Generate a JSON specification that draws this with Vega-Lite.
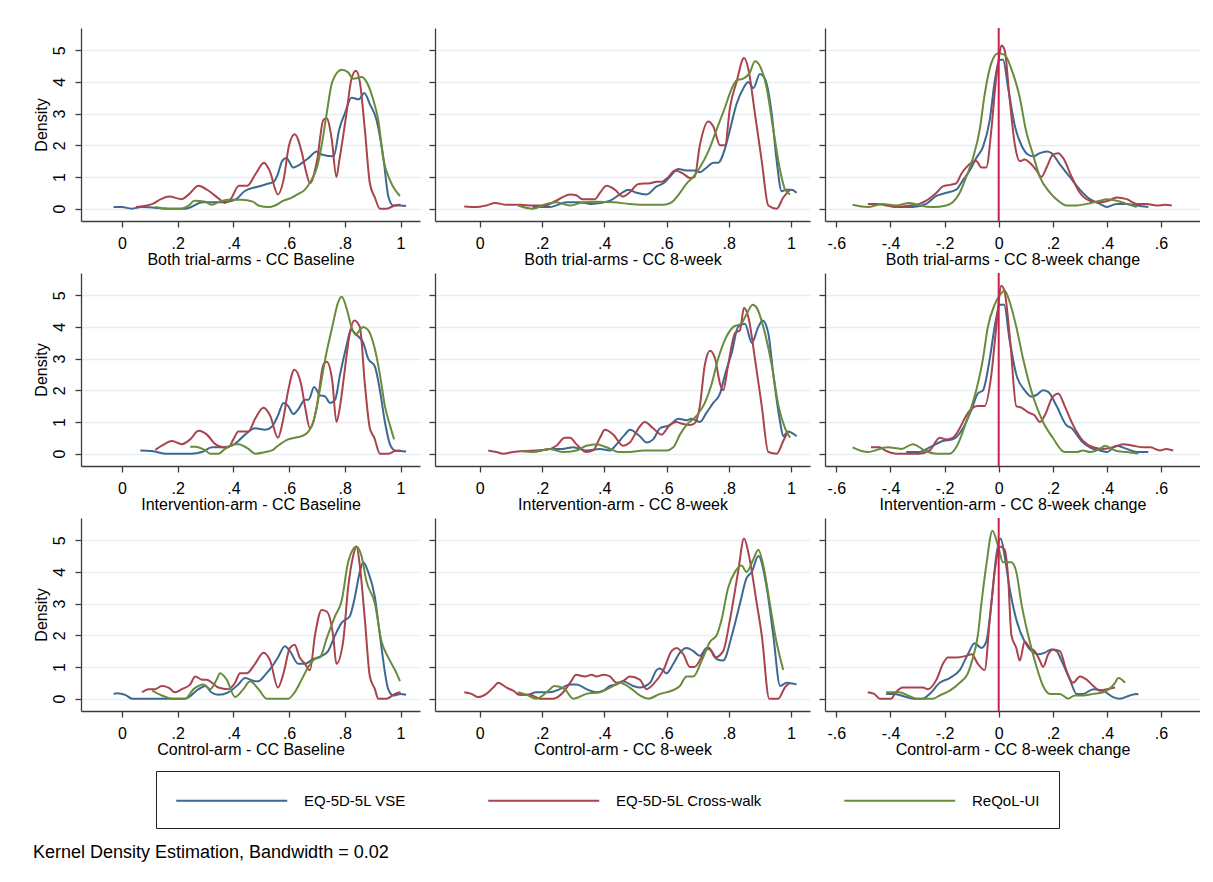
{
"$schema": "https://vega.github.io/schema/vega-lite/v6.json",
"background": "white",
"padding": {"left": 32, "top": 27, "right": 0, "bottom": 0},
"title": {"text": "Kernel Density Estimation, Bandwidth = 0.02", "orient": "bottom", "anchor": "start", "fontSize": 18, "fontWeight": "normal", "font": "Liberation Sans", "color": "#000", "offset": 15},
"config": {
  "font": "Liberation Sans",
  "view": {"stroke": null},
  "line": {"strokeWidth": 2, "interpolate": "monotone"},
  "axis": {"labelFont": "Liberation Sans", "titleFont": "Liberation Sans", "labelFontSize": 16, "titleFontSize": 16, "titleFontWeight": "normal", "labelColor": "#000", "titleColor": "#000", "domainColor": "#3c3c3c", "tickColor": "#3c3c3c", "domainWidth": 1.3, "tickWidth": 1.3, "tickSize": 6, "grid": false},
  "axisX": {"labelPadding": 8, "titlePadding": 0, "labelOverlap": false},
  "axisY": {"grid": true, "gridColor": "#e6eef1", "gridWidth": 1.5, "labelAngle": 270, "labelAlign": "center", "labelBaseline": "bottom", "labelPadding": 8, "titlePadding": 2}
},
"resolve": {"scale": {"x": "independent", "y": "independent", "color": "shared"}},
"spacing": 5,
"datasets": {
"p1": [
{"s":"VSE","x":-0.03,"y":0.05},{"s":"VSE","x":0,"y":0.05},{"s":"VSE","x":0.035,"y":0},{"s":"VSE","x":0.07,"y":0.05},{"s":"VSE","x":0.12,"y":0.03},{"s":"VSE","x":0.15,"y":0},{"s":"VSE","x":0.23,"y":0},{"s":"VSE","x":0.29,"y":0.2},{"s":"VSE","x":0.33,"y":0.2},{"s":"VSE","x":0.38,"y":0.22},{"s":"VSE","x":0.41,"y":0.3},{"s":"VSE","x":0.44,"y":0.55},{"s":"VSE","x":0.49,"y":0.7},{"s":"VSE","x":0.53,"y":0.8},{"s":"VSE","x":0.545,"y":0.85},{"s":"VSE","x":0.56,"y":1.1},{"s":"VSE","x":0.575,"y":1.5},{"s":"VSE","x":0.59,"y":1.6},{"s":"VSE","x":0.615,"y":1.3},{"s":"VSE","x":0.63,"y":1.35},{"s":"VSE","x":0.67,"y":1.6},{"s":"VSE","x":0.70,"y":1.8},{"s":"VSE","x":0.72,"y":1.7},{"s":"VSE","x":0.76,"y":1.65},{"s":"VSE","x":0.78,"y":2.5},{"s":"VSE","x":0.80,"y":3.0},{"s":"VSE","x":0.824,"y":3.5},{"s":"VSE","x":0.85,"y":3.45},{"s":"VSE","x":0.87,"y":3.65},{"s":"VSE","x":0.89,"y":3.3},{"s":"VSE","x":0.914,"y":2.8},{"s":"VSE","x":0.94,"y":1.5},{"s":"VSE","x":0.956,"y":0.4},{"s":"VSE","x":0.974,"y":0.1},{"s":"VSE","x":1.0,"y":0.1},{"s":"VSE","x":1.02,"y":0.08},
{"s":"CW","x":0.05,"y":0.05},{"s":"CW","x":0.11,"y":0.15},{"s":"CW","x":0.14,"y":0.3},{"s":"CW","x":0.17,"y":0.38},{"s":"CW","x":0.215,"y":0.3},{"s":"CW","x":0.24,"y":0.45},{"s":"CW","x":0.275,"y":0.72},{"s":"CW","x":0.305,"y":0.6},{"s":"CW","x":0.35,"y":0.3},{"s":"CW","x":0.37,"y":0.18},{"s":"CW","x":0.39,"y":0.3},{"s":"CW","x":0.42,"y":0.72},{"s":"CW","x":0.45,"y":0.72},{"s":"CW","x":0.48,"y":1.1},{"s":"CW","x":0.51,"y":1.45},{"s":"CW","x":0.53,"y":1.2},{"s":"CW","x":0.56,"y":0.45},{"s":"CW","x":0.58,"y":0.9},{"s":"CW","x":0.60,"y":2.0},{"s":"CW","x":0.62,"y":2.35},{"s":"CW","x":0.645,"y":1.8},{"s":"CW","x":0.66,"y":1.2},{"s":"CW","x":0.675,"y":0.8},{"s":"CW","x":0.70,"y":1.5},{"s":"CW","x":0.723,"y":2.8},{"s":"CW","x":0.735,"y":2.85},{"s":"CW","x":0.753,"y":2.2},{"s":"CW","x":0.77,"y":1.0},{"s":"CW","x":0.78,"y":1.5},{"s":"CW","x":0.806,"y":3.0},{"s":"CW","x":0.824,"y":4.1},{"s":"CW","x":0.84,"y":4.35},{"s":"CW","x":0.854,"y":4.0},{"s":"CW","x":0.872,"y":2.5},{"s":"CW","x":0.89,"y":0.8},{"s":"CW","x":0.908,"y":0.35},{"s":"CW","x":0.926,"y":0},{"s":"CW","x":0.95,"y":0},{"s":"CW","x":0.98,"y":0.1},{"s":"CW","x":1.0,"y":0.12},
{"s":"RQ","x":0.12,"y":0.05},{"s":"RQ","x":0.17,"y":0},{"s":"RQ","x":0.21,"y":0},{"s":"RQ","x":0.24,"y":0.1},{"s":"RQ","x":0.26,"y":0.25},{"s":"RQ","x":0.30,"y":0.22},{"s":"RQ","x":0.32,"y":0.12},{"s":"RQ","x":0.35,"y":0.22},{"s":"RQ","x":0.38,"y":0.28},{"s":"RQ","x":0.43,"y":0.28},{"s":"RQ","x":0.47,"y":0.22},{"s":"RQ","x":0.49,"y":0.1},{"s":"RQ","x":0.526,"y":0.05},{"s":"RQ","x":0.55,"y":0.1},{"s":"RQ","x":0.58,"y":0.25},{"s":"RQ","x":0.61,"y":0.35},{"s":"RQ","x":0.63,"y":0.45},{"s":"RQ","x":0.657,"y":0.6},{"s":"RQ","x":0.68,"y":0.9},{"s":"RQ","x":0.70,"y":1.3},{"s":"RQ","x":0.717,"y":2.0},{"s":"RQ","x":0.735,"y":3.0},{"s":"RQ","x":0.755,"y":4.0},{"s":"RQ","x":0.789,"y":4.38},{"s":"RQ","x":0.812,"y":4.3},{"s":"RQ","x":0.83,"y":4.1},{"s":"RQ","x":0.86,"y":4.15},{"s":"RQ","x":0.878,"y":4.0},{"s":"RQ","x":0.90,"y":3.5},{"s":"RQ","x":0.92,"y":2.8},{"s":"RQ","x":0.94,"y":1.5},{"s":"RQ","x":0.962,"y":0.9},{"s":"RQ","x":0.998,"y":0.4}
],
"p2": [
{"s":"VSE","x":0.17,"y":0.05},{"s":"VSE","x":0.225,"y":0.05},{"s":"VSE","x":0.28,"y":0.2},{"s":"VSE","x":0.32,"y":0.2},{"s":"VSE","x":0.354,"y":0.15},{"s":"VSE","x":0.386,"y":0.18},{"s":"VSE","x":0.418,"y":0.25},{"s":"VSE","x":0.45,"y":0.45},{"s":"VSE","x":0.477,"y":0.6},{"s":"VSE","x":0.504,"y":0.5},{"s":"VSE","x":0.536,"y":0.45},{"s":"VSE","x":0.568,"y":0.7},{"s":"VSE","x":0.59,"y":0.8},{"s":"VSE","x":0.61,"y":1.0},{"s":"VSE","x":0.638,"y":1.25},{"s":"VSE","x":0.664,"y":1.2},{"s":"VSE","x":0.69,"y":1.2},{"s":"VSE","x":0.707,"y":1.15},{"s":"VSE","x":0.729,"y":1.3},{"s":"VSE","x":0.75,"y":1.45},{"s":"VSE","x":0.766,"y":1.45},{"s":"VSE","x":0.788,"y":1.9},{"s":"VSE","x":0.804,"y":2.5},{"s":"VSE","x":0.825,"y":3.3},{"s":"VSE","x":0.847,"y":3.8},{"s":"VSE","x":0.863,"y":4.0},{"s":"VSE","x":0.879,"y":3.8},{"s":"VSE","x":0.90,"y":4.25},{"s":"VSE","x":0.916,"y":4.1},{"s":"VSE","x":0.938,"y":3.0},{"s":"VSE","x":0.954,"y":1.5},{"s":"VSE","x":0.97,"y":0.55},{"s":"VSE","x":0.986,"y":0.6},{"s":"VSE","x":1.002,"y":0.6},{"s":"VSE","x":1.018,"y":0.5},
{"s":"CW","x":-0.05,"y":0.07},{"s":"CW","x":-0.01,"y":0.05},{"s":"CW","x":0.02,"y":0.1},{"s":"CW","x":0.05,"y":0.18},{"s":"CW","x":0.085,"y":0.12},{"s":"CW","x":0.13,"y":0.12},{"s":"CW","x":0.17,"y":0.1},{"s":"CW","x":0.21,"y":0.1},{"s":"CW","x":0.245,"y":0.25},{"s":"CW","x":0.29,"y":0.45},{"s":"CW","x":0.31,"y":0.42},{"s":"CW","x":0.33,"y":0.3},{"s":"CW","x":0.37,"y":0.3},{"s":"CW","x":0.386,"y":0.5},{"s":"CW","x":0.407,"y":0.72},{"s":"CW","x":0.434,"y":0.6},{"s":"CW","x":0.46,"y":0.38},{"s":"CW","x":0.48,"y":0.5},{"s":"CW","x":0.51,"y":0.78},{"s":"CW","x":0.547,"y":0.8},{"s":"CW","x":0.568,"y":0.85},{"s":"CW","x":0.584,"y":0.85},{"s":"CW","x":0.606,"y":1.0},{"s":"CW","x":0.627,"y":1.2},{"s":"CW","x":0.654,"y":1.1},{"s":"CW","x":0.675,"y":0.97},{"s":"CW","x":0.69,"y":1.0},{"s":"CW","x":0.707,"y":2.0},{"s":"CW","x":0.734,"y":2.75},{"s":"CW","x":0.75,"y":2.6},{"s":"CW","x":0.772,"y":2.0},{"s":"CW","x":0.788,"y":2.0},{"s":"CW","x":0.804,"y":3.2},{"s":"CW","x":0.825,"y":4.0},{"s":"CW","x":0.849,"y":4.75},{"s":"CW","x":0.863,"y":4.4},{"s":"CW","x":0.884,"y":3.0},{"s":"CW","x":0.906,"y":1.5},{"s":"CW","x":0.927,"y":0.1},{"s":"CW","x":0.954,"y":0},{"s":"CW","x":0.975,"y":0.35},{"s":"CW","x":0.997,"y":0.6},
{"s":"RQ","x":0.123,"y":0.1},{"s":"RQ","x":0.17,"y":0},{"s":"RQ","x":0.214,"y":0.15},{"s":"RQ","x":0.246,"y":0.2},{"s":"RQ","x":0.29,"y":0.1},{"s":"RQ","x":0.332,"y":0.2},{"s":"RQ","x":0.375,"y":0.22},{"s":"RQ","x":0.43,"y":0.2},{"s":"RQ","x":0.482,"y":0.15},{"s":"RQ","x":0.547,"y":0.12},{"s":"RQ","x":0.59,"y":0.12},{"s":"RQ","x":0.616,"y":0.2},{"s":"RQ","x":0.643,"y":0.5},{"s":"RQ","x":0.665,"y":0.8},{"s":"RQ","x":0.686,"y":1.0},{"s":"RQ","x":0.707,"y":1.3},{"s":"RQ","x":0.734,"y":1.8},{"s":"RQ","x":0.761,"y":2.5},{"s":"RQ","x":0.788,"y":3.2},{"s":"RQ","x":0.81,"y":3.8},{"s":"RQ","x":0.825,"y":4.05},{"s":"RQ","x":0.847,"y":4.1},{"s":"RQ","x":0.868,"y":4.3},{"s":"RQ","x":0.884,"y":4.65},{"s":"RQ","x":0.90,"y":4.5},{"s":"RQ","x":0.922,"y":3.8},{"s":"RQ","x":0.943,"y":2.5},{"s":"RQ","x":0.965,"y":1.2},{"s":"RQ","x":0.981,"y":0.6},{"s":"RQ","x":0.997,"y":0.45}
],
"p3": [
{"s":"VSE","x":-0.39,"y":0.05},{"s":"VSE","x":-0.317,"y":0.05},{"s":"VSE","x":-0.268,"y":0.15},{"s":"VSE","x":-0.23,"y":0.4},{"s":"VSE","x":-0.194,"y":0.5},{"s":"VSE","x":-0.157,"y":0.6},{"s":"VSE","x":-0.132,"y":0.9},{"s":"VSE","x":-0.107,"y":1.2},{"s":"VSE","x":-0.083,"y":1.6},{"s":"VSE","x":-0.058,"y":1.95},{"s":"VSE","x":-0.033,"y":2.8},{"s":"VSE","x":-0.015,"y":4.0},{"s":"VSE","x":0.004,"y":4.7},{"s":"VSE","x":0.016,"y":4.7},{"s":"VSE","x":0.035,"y":3.8},{"s":"VSE","x":0.06,"y":2.6},{"s":"VSE","x":0.084,"y":2.0},{"s":"VSE","x":0.109,"y":1.7},{"s":"VSE","x":0.127,"y":1.65},{"s":"VSE","x":0.152,"y":1.75},{"s":"VSE","x":0.177,"y":1.8},{"s":"VSE","x":0.195,"y":1.75},{"s":"VSE","x":0.226,"y":1.4},{"s":"VSE","x":0.263,"y":1.0},{"s":"VSE","x":0.30,"y":0.6},{"s":"VSE","x":0.337,"y":0.3},{"s":"VSE","x":0.374,"y":0.15},{"s":"VSE","x":0.40,"y":0.05},{"s":"VSE","x":0.436,"y":0.15},{"s":"VSE","x":0.473,"y":0.15},{"s":"VSE","x":0.51,"y":0.1},{"s":"VSE","x":0.553,"y":0.05},
{"s":"CW","x":-0.484,"y":0.15},{"s":"CW","x":-0.447,"y":0.15},{"s":"CW","x":-0.416,"y":0.1},{"s":"CW","x":-0.38,"y":0.05},{"s":"CW","x":-0.33,"y":0.1},{"s":"CW","x":-0.293,"y":0.15},{"s":"CW","x":-0.268,"y":0.25},{"s":"CW","x":-0.23,"y":0.5},{"s":"CW","x":-0.206,"y":0.7},{"s":"CW","x":-0.18,"y":0.75},{"s":"CW","x":-0.157,"y":0.8},{"s":"CW","x":-0.138,"y":1.1},{"s":"CW","x":-0.12,"y":1.3},{"s":"CW","x":-0.10,"y":1.45},{"s":"CW","x":-0.083,"y":1.5},{"s":"CW","x":-0.064,"y":1.3},{"s":"CW","x":-0.046,"y":1.3},{"s":"CW","x":-0.027,"y":2.5},{"s":"CW","x":-0.011,"y":4.0},{"s":"CW","x":0,"y":4.7},{"s":"CW","x":0.01,"y":5.15},{"s":"CW","x":0.022,"y":5.0},{"s":"CW","x":0.04,"y":3.5},{"s":"CW","x":0.06,"y":2.0},{"s":"CW","x":0.078,"y":1.5},{"s":"CW","x":0.096,"y":1.55},{"s":"CW","x":0.115,"y":1.45},{"s":"CW","x":0.14,"y":1.2},{"s":"CW","x":0.158,"y":1.0},{"s":"CW","x":0.177,"y":1.3},{"s":"CW","x":0.20,"y":1.7},{"s":"CW","x":0.22,"y":1.75},{"s":"CW","x":0.238,"y":1.6},{"s":"CW","x":0.27,"y":1.0},{"s":"CW","x":0.30,"y":0.5},{"s":"CW","x":0.337,"y":0.25},{"s":"CW","x":0.374,"y":0.2},{"s":"CW","x":0.405,"y":0.25},{"s":"CW","x":0.436,"y":0.35},{"s":"CW","x":0.473,"y":0.3},{"s":"CW","x":0.51,"y":0.15},{"s":"CW","x":0.547,"y":0.15},{"s":"CW","x":0.584,"y":0.1},{"s":"CW","x":0.615,"y":0.12},{"s":"CW","x":0.64,"y":0.1},
{"s":"RQ","x":-0.54,"y":0.12},{"s":"RQ","x":-0.484,"y":0.05},{"s":"RQ","x":-0.43,"y":0.15},{"s":"RQ","x":-0.38,"y":0.1},{"s":"RQ","x":-0.33,"y":0.18},{"s":"RQ","x":-0.293,"y":0.1},{"s":"RQ","x":-0.243,"y":0.05},{"s":"RQ","x":-0.194,"y":0.1},{"s":"RQ","x":-0.17,"y":0.2},{"s":"RQ","x":-0.144,"y":0.5},{"s":"RQ","x":-0.12,"y":1.0},{"s":"RQ","x":-0.095,"y":1.6},{"s":"RQ","x":-0.07,"y":2.5},{"s":"RQ","x":-0.052,"y":3.6},{"s":"RQ","x":-0.027,"y":4.6},{"s":"RQ","x":-0.002,"y":4.9},{"s":"RQ","x":0.022,"y":4.85},{"s":"RQ","x":0.047,"y":4.4},{"s":"RQ","x":0.078,"y":3.5},{"s":"RQ","x":0.10,"y":2.5},{"s":"RQ","x":0.127,"y":1.7},{"s":"RQ","x":0.152,"y":1.0},{"s":"RQ","x":0.19,"y":0.5},{"s":"RQ","x":0.22,"y":0.25},{"s":"RQ","x":0.25,"y":0.1},{"s":"RQ","x":0.288,"y":0.1},{"s":"RQ","x":0.325,"y":0.15},{"s":"RQ","x":0.374,"y":0.25},{"s":"RQ","x":0.40,"y":0.3},{"s":"RQ","x":0.436,"y":0.25},{"s":"RQ","x":0.473,"y":0.15},{"s":"RQ","x":0.51,"y":0.05}
],
"p4": [
{"s":"VSE","x":0.066,"y":0.1},{"s":"VSE","x":0.108,"y":0.08},{"s":"VSE","x":0.155,"y":0},{"s":"VSE","x":0.25,"y":0},{"s":"VSE","x":0.287,"y":0.05},{"s":"VSE","x":0.323,"y":0.2},{"s":"VSE","x":0.358,"y":0.2},{"s":"VSE","x":0.394,"y":0.25},{"s":"VSE","x":0.418,"y":0.4},{"s":"VSE","x":0.442,"y":0.6},{"s":"VSE","x":0.478,"y":0.8},{"s":"VSE","x":0.514,"y":0.75},{"s":"VSE","x":0.538,"y":0.85},{"s":"VSE","x":0.56,"y":1.2},{"s":"VSE","x":0.58,"y":1.6},{"s":"VSE","x":0.597,"y":1.5},{"s":"VSE","x":0.615,"y":1.25},{"s":"VSE","x":0.633,"y":1.4},{"s":"VSE","x":0.657,"y":1.7},{"s":"VSE","x":0.67,"y":1.7},{"s":"VSE","x":0.69,"y":2.1},{"s":"VSE","x":0.71,"y":1.85},{"s":"VSE","x":0.73,"y":1.8},{"s":"VSE","x":0.747,"y":1.6},{"s":"VSE","x":0.765,"y":1.7},{"s":"VSE","x":0.783,"y":2.5},{"s":"VSE","x":0.806,"y":3.4},{"s":"VSE","x":0.822,"y":3.9},{"s":"VSE","x":0.842,"y":3.75},{"s":"VSE","x":0.866,"y":3.5},{"s":"VSE","x":0.884,"y":3.0},{"s":"VSE","x":0.908,"y":2.75},{"s":"VSE","x":0.926,"y":2.0},{"s":"VSE","x":0.944,"y":1.0},{"s":"VSE","x":0.962,"y":0.3},{"s":"VSE","x":0.98,"y":0.1},{"s":"VSE","x":1.0,"y":0.08},{"s":"VSE","x":1.02,"y":0.07},
{"s":"CW","x":0.12,"y":0.12},{"s":"CW","x":0.143,"y":0.25},{"s":"CW","x":0.18,"y":0.4},{"s":"CW","x":0.215,"y":0.3},{"s":"CW","x":0.245,"y":0.45},{"s":"CW","x":0.275,"y":0.72},{"s":"CW","x":0.305,"y":0.6},{"s":"CW","x":0.335,"y":0.3},{"s":"CW","x":0.364,"y":0.2},{"s":"CW","x":0.382,"y":0.2},{"s":"CW","x":0.40,"y":0.45},{"s":"CW","x":0.418,"y":0.7},{"s":"CW","x":0.454,"y":0.7},{"s":"CW","x":0.478,"y":1.1},{"s":"CW","x":0.508,"y":1.45},{"s":"CW","x":0.532,"y":1.2},{"s":"CW","x":0.56,"y":0.5},{"s":"CW","x":0.577,"y":1.0},{"s":"CW","x":0.597,"y":2.0},{"s":"CW","x":0.619,"y":2.65},{"s":"CW","x":0.643,"y":2.2},{"s":"CW","x":0.657,"y":1.5},{"s":"CW","x":0.675,"y":0.8},{"s":"CW","x":0.70,"y":1.5},{"s":"CW","x":0.723,"y":2.8},{"s":"CW","x":0.735,"y":2.9},{"s":"CW","x":0.755,"y":2.3},{"s":"CW","x":0.77,"y":1.0},{"s":"CW","x":0.783,"y":1.5},{"s":"CW","x":0.798,"y":2.5},{"s":"CW","x":0.818,"y":3.8},{"s":"CW","x":0.834,"y":4.2},{"s":"CW","x":0.854,"y":4.0},{"s":"CW","x":0.872,"y":2.2},{"s":"CW","x":0.89,"y":0.8},{"s":"CW","x":0.906,"y":0.5},{"s":"CW","x":0.926,"y":0},{"s":"CW","x":0.956,"y":0},{"s":"CW","x":0.98,"y":0.08},{"s":"CW","x":1.0,"y":0.1},
{"s":"RQ","x":0.245,"y":0.22},{"s":"RQ","x":0.263,"y":0.22},{"s":"RQ","x":0.30,"y":0.1},{"s":"RQ","x":0.317,"y":0},{"s":"RQ","x":0.347,"y":0},{"s":"RQ","x":0.37,"y":0.15},{"s":"RQ","x":0.406,"y":0.3},{"s":"RQ","x":0.418,"y":0.3},{"s":"RQ","x":0.454,"y":0.15},{"s":"RQ","x":0.478,"y":0},{"s":"RQ","x":0.514,"y":0.05},{"s":"RQ","x":0.538,"y":0.1},{"s":"RQ","x":0.56,"y":0.25},{"s":"RQ","x":0.597,"y":0.45},{"s":"RQ","x":0.62,"y":0.5},{"s":"RQ","x":0.645,"y":0.55},{"s":"RQ","x":0.67,"y":0.7},{"s":"RQ","x":0.693,"y":1.2},{"s":"RQ","x":0.71,"y":2.0},{"s":"RQ","x":0.73,"y":3.0},{"s":"RQ","x":0.755,"y":4.0},{"s":"RQ","x":0.777,"y":4.8},{"s":"RQ","x":0.789,"y":4.95},{"s":"RQ","x":0.806,"y":4.6},{"s":"RQ","x":0.824,"y":4.0},{"s":"RQ","x":0.839,"y":3.75},{"s":"RQ","x":0.854,"y":3.9},{"s":"RQ","x":0.866,"y":4.0},{"s":"RQ","x":0.884,"y":3.9},{"s":"RQ","x":0.908,"y":3.3},{"s":"RQ","x":0.926,"y":2.5},{"s":"RQ","x":0.944,"y":1.5},{"s":"RQ","x":0.962,"y":0.9},{"s":"RQ","x":0.977,"y":0.45}
],
"p5": [
{"s":"VSE","x":0.145,"y":0.08},{"s":"VSE","x":0.182,"y":0.08},{"s":"VSE","x":0.225,"y":0.15},{"s":"VSE","x":0.268,"y":0.15},{"s":"VSE","x":0.30,"y":0.2},{"s":"VSE","x":0.343,"y":0.1},{"s":"VSE","x":0.386,"y":0.15},{"s":"VSE","x":0.418,"y":0.1},{"s":"VSE","x":0.44,"y":0.3},{"s":"VSE","x":0.466,"y":0.6},{"s":"VSE","x":0.482,"y":0.75},{"s":"VSE","x":0.514,"y":0.55},{"s":"VSE","x":0.536,"y":0.35},{"s":"VSE","x":0.557,"y":0.45},{"s":"VSE","x":0.579,"y":0.8},{"s":"VSE","x":0.61,"y":0.9},{"s":"VSE","x":0.638,"y":1.1},{"s":"VSE","x":0.664,"y":1.05},{"s":"VSE","x":0.68,"y":1.1},{"s":"VSE","x":0.707,"y":1.0},{"s":"VSE","x":0.729,"y":1.3},{"s":"VSE","x":0.75,"y":1.6},{"s":"VSE","x":0.772,"y":1.9},{"s":"VSE","x":0.788,"y":2.5},{"s":"VSE","x":0.81,"y":3.2},{"s":"VSE","x":0.83,"y":4.0},{"s":"VSE","x":0.852,"y":4.1},{"s":"VSE","x":0.874,"y":3.5},{"s":"VSE","x":0.895,"y":4.0},{"s":"VSE","x":0.909,"y":4.2},{"s":"VSE","x":0.927,"y":3.8},{"s":"VSE","x":0.943,"y":2.5},{"s":"VSE","x":0.965,"y":1.0},{"s":"VSE","x":0.975,"y":0.55},{"s":"VSE","x":0.99,"y":0.7},{"s":"VSE","x":1.018,"y":0.55},
{"s":"CW","x":0.027,"y":0.1},{"s":"CW","x":0.054,"y":0.05},{"s":"CW","x":0.075,"y":0},{"s":"CW","x":0.107,"y":0.05},{"s":"CW","x":0.14,"y":0.08},{"s":"CW","x":0.182,"y":0.1},{"s":"CW","x":0.214,"y":0.12},{"s":"CW","x":0.246,"y":0.25},{"s":"CW","x":0.273,"y":0.5},{"s":"CW","x":0.29,"y":0.5},{"s":"CW","x":0.31,"y":0.3},{"s":"CW","x":0.343,"y":0.05},{"s":"CW","x":0.364,"y":0.1},{"s":"CW","x":0.386,"y":0.5},{"s":"CW","x":0.402,"y":0.75},{"s":"CW","x":0.429,"y":0.6},{"s":"CW","x":0.46,"y":0.25},{"s":"CW","x":0.482,"y":0.35},{"s":"CW","x":0.51,"y":0.8},{"s":"CW","x":0.53,"y":1.0},{"s":"CW","x":0.557,"y":0.8},{"s":"CW","x":0.584,"y":0.6},{"s":"CW","x":0.61,"y":0.9},{"s":"CW","x":0.632,"y":1.0},{"s":"CW","x":0.648,"y":0.95},{"s":"CW","x":0.675,"y":0.9},{"s":"CW","x":0.69,"y":0.95},{"s":"CW","x":0.707,"y":1.5},{"s":"CW","x":0.723,"y":2.8},{"s":"CW","x":0.74,"y":3.25},{"s":"CW","x":0.756,"y":3.0},{"s":"CW","x":0.772,"y":2.2},{"s":"CW","x":0.782,"y":2.0},{"s":"CW","x":0.798,"y":2.8},{"s":"CW","x":0.82,"y":3.8},{"s":"CW","x":0.836,"y":3.9},{"s":"CW","x":0.849,"y":4.6},{"s":"CW","x":0.863,"y":4.3},{"s":"CW","x":0.884,"y":3.0},{"s":"CW","x":0.906,"y":1.5},{"s":"CW","x":0.927,"y":0.05},{"s":"CW","x":0.954,"y":0},{"s":"CW","x":0.975,"y":0.4},{"s":"CW","x":0.99,"y":0.7},
{"s":"RQ","x":0.129,"y":0.08},{"s":"RQ","x":0.171,"y":0.05},{"s":"RQ","x":0.225,"y":0.15},{"s":"RQ","x":0.268,"y":0.05},{"s":"RQ","x":0.31,"y":0.1},{"s":"RQ","x":0.343,"y":0.25},{"s":"RQ","x":0.375,"y":0.3},{"s":"RQ","x":0.407,"y":0.2},{"s":"RQ","x":0.45,"y":0.05},{"s":"RQ","x":0.482,"y":0.05},{"s":"RQ","x":0.525,"y":0.1},{"s":"RQ","x":0.568,"y":0.1},{"s":"RQ","x":0.60,"y":0.1},{"s":"RQ","x":0.622,"y":0.2},{"s":"RQ","x":0.643,"y":0.6},{"s":"RQ","x":0.664,"y":0.9},{"s":"RQ","x":0.697,"y":1.2},{"s":"RQ","x":0.723,"y":1.6},{"s":"RQ","x":0.745,"y":2.2},{"s":"RQ","x":0.766,"y":3.0},{"s":"RQ","x":0.788,"y":3.6},{"s":"RQ","x":0.815,"y":4.0},{"s":"RQ","x":0.84,"y":4.1},{"s":"RQ","x":0.857,"y":4.4},{"s":"RQ","x":0.877,"y":4.7},{"s":"RQ","x":0.89,"y":4.6},{"s":"RQ","x":0.911,"y":4.0},{"s":"RQ","x":0.938,"y":2.8},{"s":"RQ","x":0.96,"y":1.5},{"s":"RQ","x":0.981,"y":0.8},{"s":"RQ","x":0.997,"y":0.5}
],
"p6": [
{"s":"VSE","x":-0.342,"y":0.05},{"s":"VSE","x":-0.293,"y":0.05},{"s":"VSE","x":-0.255,"y":0.2},{"s":"VSE","x":-0.206,"y":0.4},{"s":"VSE","x":-0.17,"y":0.45},{"s":"VSE","x":-0.132,"y":0.8},{"s":"VSE","x":-0.10,"y":1.4},{"s":"VSE","x":-0.077,"y":1.9},{"s":"VSE","x":-0.058,"y":2.0},{"s":"VSE","x":-0.033,"y":3.0},{"s":"VSE","x":-0.015,"y":4.0},{"s":"VSE","x":0.004,"y":4.7},{"s":"VSE","x":0.02,"y":4.7},{"s":"VSE","x":0.04,"y":3.6},{"s":"VSE","x":0.065,"y":2.5},{"s":"VSE","x":0.096,"y":2.0},{"s":"VSE","x":0.12,"y":1.8},{"s":"VSE","x":0.14,"y":1.85},{"s":"VSE","x":0.164,"y":2.0},{"s":"VSE","x":0.183,"y":1.95},{"s":"VSE","x":0.214,"y":1.5},{"s":"VSE","x":0.25,"y":0.9},{"s":"VSE","x":0.27,"y":0.8},{"s":"VSE","x":0.306,"y":0.4},{"s":"VSE","x":0.337,"y":0.2},{"s":"VSE","x":0.374,"y":0.1},{"s":"VSE","x":0.40,"y":0.05},{"s":"VSE","x":0.436,"y":0.25},{"s":"VSE","x":0.473,"y":0.15},{"s":"VSE","x":0.51,"y":0.05},{"s":"VSE","x":0.553,"y":0.05},
{"s":"CW","x":-0.472,"y":0.2},{"s":"CW","x":-0.44,"y":0.2},{"s":"CW","x":-0.42,"y":0.1},{"s":"CW","x":-0.38,"y":0},{"s":"CW","x":-0.293,"y":0},{"s":"CW","x":-0.255,"y":0.1},{"s":"CW","x":-0.218,"y":0.5},{"s":"CW","x":-0.194,"y":0.45},{"s":"CW","x":-0.17,"y":0.5},{"s":"CW","x":-0.144,"y":0.8},{"s":"CW","x":-0.12,"y":1.2},{"s":"CW","x":-0.095,"y":1.45},{"s":"CW","x":-0.077,"y":1.5},{"s":"CW","x":-0.052,"y":1.5},{"s":"CW","x":-0.027,"y":2.5},{"s":"CW","x":-0.009,"y":4.0},{"s":"CW","x":0.01,"y":5.3},{"s":"CW","x":0.022,"y":5.1},{"s":"CW","x":0.043,"y":3.5},{"s":"CW","x":0.065,"y":1.5},{"s":"CW","x":0.084,"y":1.45},{"s":"CW","x":0.109,"y":1.3},{"s":"CW","x":0.133,"y":1.2},{"s":"CW","x":0.152,"y":1.0},{"s":"CW","x":0.17,"y":1.2},{"s":"CW","x":0.20,"y":1.8},{"s":"CW","x":0.22,"y":1.9},{"s":"CW","x":0.244,"y":1.5},{"s":"CW","x":0.275,"y":0.9},{"s":"CW","x":0.312,"y":0.4},{"s":"CW","x":0.35,"y":0.2},{"s":"CW","x":0.386,"y":0.15},{"s":"CW","x":0.423,"y":0.2},{"s":"CW","x":0.46,"y":0.3},{"s":"CW","x":0.497,"y":0.25},{"s":"CW","x":0.535,"y":0.2},{"s":"CW","x":0.56,"y":0.2},{"s":"CW","x":0.596,"y":0.1},{"s":"CW","x":0.62,"y":0.15},{"s":"CW","x":0.645,"y":0.1},
{"s":"RQ","x":-0.54,"y":0.2},{"s":"RQ","x":-0.484,"y":0.05},{"s":"RQ","x":-0.41,"y":0.2},{"s":"RQ","x":-0.36,"y":0.15},{"s":"RQ","x":-0.317,"y":0.3},{"s":"RQ","x":-0.274,"y":0.1},{"s":"RQ","x":-0.23,"y":0},{"s":"RQ","x":-0.181,"y":0},{"s":"RQ","x":-0.157,"y":0.2},{"s":"RQ","x":-0.12,"y":1.0},{"s":"RQ","x":-0.083,"y":2.0},{"s":"RQ","x":-0.058,"y":3.0},{"s":"RQ","x":-0.04,"y":4.0},{"s":"RQ","x":-0.015,"y":4.7},{"s":"RQ","x":0.004,"y":5.0},{"s":"RQ","x":0.022,"y":5.15},{"s":"RQ","x":0.04,"y":4.8},{"s":"RQ","x":0.065,"y":4.0},{"s":"RQ","x":0.09,"y":3.0},{"s":"RQ","x":0.12,"y":2.0},{"s":"RQ","x":0.164,"y":1.0},{"s":"RQ","x":0.20,"y":0.5},{"s":"RQ","x":0.244,"y":0.05},{"s":"RQ","x":0.288,"y":0.05},{"s":"RQ","x":0.312,"y":0.1},{"s":"RQ","x":0.337,"y":0.05},{"s":"RQ","x":0.374,"y":0.15},{"s":"RQ","x":0.393,"y":0.25},{"s":"RQ","x":0.43,"y":0.1},{"s":"RQ","x":0.473,"y":0.05},{"s":"RQ","x":0.516,"y":0}
],
"p7": [
{"s":"VSE","x":-0.03,"y":0.15},{"s":"VSE","x":-0.018,"y":0.17},{"s":"VSE","x":0.012,"y":0.12},{"s":"VSE","x":0.036,"y":0},{"s":"VSE","x":0.143,"y":0},{"s":"VSE","x":0.227,"y":0},{"s":"VSE","x":0.275,"y":0.3},{"s":"VSE","x":0.30,"y":0.4},{"s":"VSE","x":0.32,"y":0.2},{"s":"VSE","x":0.346,"y":0.12},{"s":"VSE","x":0.382,"y":0.2},{"s":"VSE","x":0.418,"y":0.45},{"s":"VSE","x":0.442,"y":0.65},{"s":"VSE","x":0.478,"y":0.55},{"s":"VSE","x":0.49,"y":0.55},{"s":"VSE","x":0.514,"y":0.75},{"s":"VSE","x":0.538,"y":1.0},{"s":"VSE","x":0.56,"y":1.3},{"s":"VSE","x":0.585,"y":1.65},{"s":"VSE","x":0.603,"y":1.5},{"s":"VSE","x":0.633,"y":1.1},{"s":"VSE","x":0.657,"y":1.1},{"s":"VSE","x":0.687,"y":1.25},{"s":"VSE","x":0.717,"y":1.35},{"s":"VSE","x":0.74,"y":1.5},{"s":"VSE","x":0.765,"y":2.0},{"s":"VSE","x":0.789,"y":2.4},{"s":"VSE","x":0.818,"y":2.6},{"s":"VSE","x":0.836,"y":3.2},{"s":"VSE","x":0.854,"y":4.0},{"s":"VSE","x":0.866,"y":4.3},{"s":"VSE","x":0.884,"y":4.0},{"s":"VSE","x":0.908,"y":3.2},{"s":"VSE","x":0.926,"y":2.0},{"s":"VSE","x":0.956,"y":0.3},{"s":"VSE","x":0.974,"y":0.1},{"s":"VSE","x":1.0,"y":0.15},{"s":"VSE","x":1.02,"y":0.12},
{"s":"CW","x":0.072,"y":0.2},{"s":"CW","x":0.096,"y":0.3},{"s":"CW","x":0.12,"y":0.3},{"s":"CW","x":0.143,"y":0.4},{"s":"CW","x":0.167,"y":0.35},{"s":"CW","x":0.19,"y":0.2},{"s":"CW","x":0.215,"y":0.3},{"s":"CW","x":0.245,"y":0.45},{"s":"CW","x":0.263,"y":0.7},{"s":"CW","x":0.287,"y":0.6},{"s":"CW","x":0.305,"y":0.6},{"s":"CW","x":0.323,"y":0.5},{"s":"CW","x":0.346,"y":0.35},{"s":"CW","x":0.382,"y":0.3},{"s":"CW","x":0.406,"y":0.5},{"s":"CW","x":0.424,"y":0.8},{"s":"CW","x":0.448,"y":0.8},{"s":"CW","x":0.478,"y":1.1},{"s":"CW","x":0.508,"y":1.45},{"s":"CW","x":0.532,"y":1.2},{"s":"CW","x":0.56,"y":0.35},{"s":"CW","x":0.58,"y":0.8},{"s":"CW","x":0.603,"y":1.6},{"s":"CW","x":0.62,"y":1.7},{"s":"CW","x":0.638,"y":1.3},{"s":"CW","x":0.657,"y":1.1},{"s":"CW","x":0.675,"y":0.9},{"s":"CW","x":0.693,"y":2.0},{"s":"CW","x":0.717,"y":2.8},{"s":"CW","x":0.735,"y":2.75},{"s":"CW","x":0.758,"y":2.0},{"s":"CW","x":0.77,"y":1.1},{"s":"CW","x":0.794,"y":1.8},{"s":"CW","x":0.812,"y":3.5},{"s":"CW","x":0.83,"y":4.5},{"s":"CW","x":0.842,"y":4.8},{"s":"CW","x":0.854,"y":4.2},{"s":"CW","x":0.872,"y":2.5},{"s":"CW","x":0.89,"y":0.7},{"s":"CW","x":0.908,"y":0.3},{"s":"CW","x":0.92,"y":0},{"s":"CW","x":0.95,"y":0},{"s":"CW","x":0.98,"y":0.15},{"s":"CW","x":1.0,"y":0.2},
{"s":"RQ","x":0.108,"y":0.25},{"s":"RQ","x":0.143,"y":0.1},{"s":"RQ","x":0.18,"y":0},{"s":"RQ","x":0.227,"y":0},{"s":"RQ","x":0.257,"y":0.3},{"s":"RQ","x":0.293,"y":0.45},{"s":"RQ","x":0.317,"y":0.3},{"s":"RQ","x":0.34,"y":0.6},{"s":"RQ","x":0.352,"y":0.8},{"s":"RQ","x":0.376,"y":0.6},{"s":"RQ","x":0.406,"y":0.05},{"s":"RQ","x":0.436,"y":0.3},{"s":"RQ","x":0.46,"y":0.55},{"s":"RQ","x":0.49,"y":0.3},{"s":"RQ","x":0.52,"y":0},{"s":"RQ","x":0.597,"y":0},{"s":"RQ","x":0.62,"y":0.2},{"s":"RQ","x":0.645,"y":0.6},{"s":"RQ","x":0.669,"y":1.0},{"s":"RQ","x":0.693,"y":1.25},{"s":"RQ","x":0.711,"y":1.3},{"s":"RQ","x":0.735,"y":1.9},{"s":"RQ","x":0.765,"y":2.6},{"s":"RQ","x":0.789,"y":3.1},{"s":"RQ","x":0.812,"y":4.3},{"s":"RQ","x":0.842,"y":4.8},{"s":"RQ","x":0.86,"y":4.5},{"s":"RQ","x":0.878,"y":3.7},{"s":"RQ","x":0.908,"y":3.0},{"s":"RQ","x":0.932,"y":1.8},{"s":"RQ","x":0.956,"y":1.3},{"s":"RQ","x":0.986,"y":0.8},{"s":"RQ","x":0.998,"y":0.55}
],
"p8": [
{"s":"VSE","x":0.118,"y":0.15},{"s":"VSE","x":0.15,"y":0.12},{"s":"VSE","x":0.182,"y":0.2},{"s":"VSE","x":0.225,"y":0.2},{"s":"VSE","x":0.257,"y":0.3},{"s":"VSE","x":0.29,"y":0.45},{"s":"VSE","x":0.31,"y":0.45},{"s":"VSE","x":0.343,"y":0.3},{"s":"VSE","x":0.375,"y":0.2},{"s":"VSE","x":0.397,"y":0.25},{"s":"VSE","x":0.418,"y":0.4},{"s":"VSE","x":0.44,"y":0.45},{"s":"VSE","x":0.46,"y":0.55},{"s":"VSE","x":0.493,"y":0.4},{"s":"VSE","x":0.514,"y":0.35},{"s":"VSE","x":0.547,"y":0.5},{"s":"VSE","x":0.568,"y":0.9},{"s":"VSE","x":0.579,"y":0.95},{"s":"VSE","x":0.60,"y":0.8},{"s":"VSE","x":0.622,"y":1.1},{"s":"VSE","x":0.643,"y":1.45},{"s":"VSE","x":0.664,"y":1.6},{"s":"VSE","x":0.686,"y":1.5},{"s":"VSE","x":0.707,"y":1.35},{"s":"VSE","x":0.729,"y":1.6},{"s":"VSE","x":0.745,"y":1.5},{"s":"VSE","x":0.761,"y":1.25},{"s":"VSE","x":0.782,"y":1.2},{"s":"VSE","x":0.81,"y":2.0},{"s":"VSE","x":0.836,"y":3.0},{"s":"VSE","x":0.857,"y":3.8},{"s":"VSE","x":0.874,"y":4.0},{"s":"VSE","x":0.895,"y":4.5},{"s":"VSE","x":0.922,"y":3.5},{"s":"VSE","x":0.943,"y":2.0},{"s":"VSE","x":0.965,"y":0.4},{"s":"VSE","x":0.986,"y":0.5},{"s":"VSE","x":1.018,"y":0.45},
{"s":"CW","x":-0.05,"y":0.2},{"s":"CW","x":-0.027,"y":0.15},{"s":"CW","x":-0.005,"y":0.05},{"s":"CW","x":0.021,"y":0.15},{"s":"CW","x":0.048,"y":0.4},{"s":"CW","x":0.059,"y":0.5},{"s":"CW","x":0.086,"y":0.35},{"s":"CW","x":0.107,"y":0.25},{"s":"CW","x":0.129,"y":0.12},{"s":"CW","x":0.161,"y":0.12},{"s":"CW","x":0.193,"y":0},{"s":"CW","x":0.236,"y":0},{"s":"CW","x":0.268,"y":0.2},{"s":"CW","x":0.29,"y":0.5},{"s":"CW","x":0.31,"y":0.75},{"s":"CW","x":0.338,"y":0.7},{"s":"CW","x":0.359,"y":0.75},{"s":"CW","x":0.375,"y":0.7},{"s":"CW","x":0.397,"y":0.75},{"s":"CW","x":0.418,"y":0.7},{"s":"CW","x":0.44,"y":0.5},{"s":"CW","x":0.46,"y":0.55},{"s":"CW","x":0.482,"y":0.7},{"s":"CW","x":0.514,"y":0.6},{"s":"CW","x":0.536,"y":0.3},{"s":"CW","x":0.557,"y":0.45},{"s":"CW","x":0.59,"y":0.9},{"s":"CW","x":0.616,"y":1.5},{"s":"CW","x":0.632,"y":1.6},{"s":"CW","x":0.654,"y":1.4},{"s":"CW","x":0.675,"y":1.0},{"s":"CW","x":0.69,"y":1.0},{"s":"CW","x":0.718,"y":1.4},{"s":"CW","x":0.737,"y":1.6},{"s":"CW","x":0.756,"y":1.3},{"s":"CW","x":0.782,"y":1.5},{"s":"CW","x":0.804,"y":2.5},{"s":"CW","x":0.83,"y":4.0},{"s":"CW","x":0.849,"y":5.05},{"s":"CW","x":0.863,"y":4.6},{"s":"CW","x":0.89,"y":3.0},{"s":"CW","x":0.906,"y":2.0},{"s":"CW","x":0.93,"y":0},{"s":"CW","x":0.959,"y":0},{"s":"CW","x":0.98,"y":0.35},{"s":"CW","x":0.997,"y":0.5},
{"s":"RQ","x":0.123,"y":0.2},{"s":"RQ","x":0.15,"y":0.12},{"s":"RQ","x":0.182,"y":0},{"s":"RQ","x":0.22,"y":0.25},{"s":"RQ","x":0.24,"y":0.4},{"s":"RQ","x":0.273,"y":0.3},{"s":"RQ","x":0.30,"y":0},{"s":"RQ","x":0.343,"y":0.15},{"s":"RQ","x":0.386,"y":0.2},{"s":"RQ","x":0.429,"y":0.4},{"s":"RQ","x":0.45,"y":0.5},{"s":"RQ","x":0.482,"y":0.35},{"s":"RQ","x":0.514,"y":0.1},{"s":"RQ","x":0.541,"y":0},{"s":"RQ","x":0.579,"y":0.15},{"s":"RQ","x":0.616,"y":0.25},{"s":"RQ","x":0.643,"y":0.4},{"s":"RQ","x":0.664,"y":0.7},{"s":"RQ","x":0.686,"y":0.7},{"s":"RQ","x":0.713,"y":1.2},{"s":"RQ","x":0.74,"y":1.8},{"s":"RQ","x":0.761,"y":2.0},{"s":"RQ","x":0.777,"y":2.5},{"s":"RQ","x":0.798,"y":3.5},{"s":"RQ","x":0.82,"y":4.0},{"s":"RQ","x":0.841,"y":4.2},{"s":"RQ","x":0.857,"y":4.0},{"s":"RQ","x":0.879,"y":4.4},{"s":"RQ","x":0.895,"y":4.7},{"s":"RQ","x":0.911,"y":4.2},{"s":"RQ","x":0.932,"y":3.0},{"s":"RQ","x":0.949,"y":2.0},{"s":"RQ","x":0.975,"y":0.9}
],
"p9": [
{"s":"VSE","x":-0.416,"y":0.15},{"s":"VSE","x":-0.385,"y":0.15},{"s":"VSE","x":-0.342,"y":0.05},{"s":"VSE","x":-0.317,"y":0},{"s":"VSE","x":-0.28,"y":0},{"s":"VSE","x":-0.255,"y":0.15},{"s":"VSE","x":-0.218,"y":0.5},{"s":"VSE","x":-0.181,"y":0.65},{"s":"VSE","x":-0.144,"y":0.9},{"s":"VSE","x":-0.114,"y":1.4},{"s":"VSE","x":-0.089,"y":1.75},{"s":"VSE","x":-0.064,"y":1.6},{"s":"VSE","x":-0.046,"y":1.8},{"s":"VSE","x":-0.027,"y":3.0},{"s":"VSE","x":-0.009,"y":4.5},{"s":"VSE","x":0.007,"y":5.05},{"s":"VSE","x":0.022,"y":4.5},{"s":"VSE","x":0.04,"y":3.5},{"s":"VSE","x":0.065,"y":2.5},{"s":"VSE","x":0.096,"y":1.8},{"s":"VSE","x":0.121,"y":1.5},{"s":"VSE","x":0.146,"y":1.4},{"s":"VSE","x":0.17,"y":1.45},{"s":"VSE","x":0.195,"y":1.55},{"s":"VSE","x":0.214,"y":1.5},{"s":"VSE","x":0.232,"y":1.2},{"s":"VSE","x":0.263,"y":0.6},{"s":"VSE","x":0.288,"y":0.15},{"s":"VSE","x":0.312,"y":0.15},{"s":"VSE","x":0.35,"y":0.3},{"s":"VSE","x":0.386,"y":0.25},{"s":"VSE","x":0.423,"y":0.05},{"s":"VSE","x":0.448,"y":0},{"s":"VSE","x":0.485,"y":0.1},{"s":"VSE","x":0.51,"y":0.15},{"s":"VSE","x":0.516,"y":0.12},
{"s":"CW","x":-0.484,"y":0.2},{"s":"CW","x":-0.46,"y":0.15},{"s":"CW","x":-0.44,"y":0},{"s":"CW","x":-0.398,"y":0},{"s":"CW","x":-0.38,"y":0.2},{"s":"CW","x":-0.354,"y":0.35},{"s":"CW","x":-0.317,"y":0.35},{"s":"CW","x":-0.28,"y":0.35},{"s":"CW","x":-0.262,"y":0.3},{"s":"CW","x":-0.23,"y":0.6},{"s":"CW","x":-0.206,"y":1.1},{"s":"CW","x":-0.188,"y":1.3},{"s":"CW","x":-0.157,"y":1.3},{"s":"CW","x":-0.12,"y":1.35},{"s":"CW","x":-0.10,"y":1.4},{"s":"CW","x":-0.077,"y":1.1},{"s":"CW","x":-0.052,"y":0.9},{"s":"CW","x":-0.033,"y":2.5},{"s":"CW","x":-0.015,"y":4.0},{"s":"CW","x":0.004,"y":4.8},{"s":"CW","x":0.022,"y":4.7},{"s":"CW","x":0.035,"y":3.8},{"s":"CW","x":0.047,"y":2.0},{"s":"CW","x":0.065,"y":1.6},{"s":"CW","x":0.078,"y":1.2},{"s":"CW","x":0.096,"y":1.8},{"s":"CW","x":0.115,"y":1.6},{"s":"CW","x":0.133,"y":1.5},{"s":"CW","x":0.152,"y":1.2},{"s":"CW","x":0.164,"y":1.0},{"s":"CW","x":0.183,"y":1.4},{"s":"CW","x":0.201,"y":1.55},{"s":"CW","x":0.226,"y":1.5},{"s":"CW","x":0.25,"y":0.9},{"s":"CW","x":0.275,"y":0.5},{"s":"CW","x":0.30,"y":0.7},{"s":"CW","x":0.325,"y":0.6},{"s":"CW","x":0.35,"y":0.4},{"s":"CW","x":0.374,"y":0.25},{"s":"CW","x":0.40,"y":0.3},{"s":"CW","x":0.43,"y":0.35},
{"s":"RQ","x":-0.416,"y":0.2},{"s":"RQ","x":-0.367,"y":0.2},{"s":"RQ","x":-0.336,"y":0.1},{"s":"RQ","x":-0.305,"y":0},{"s":"RQ","x":-0.243,"y":0},{"s":"RQ","x":-0.218,"y":0.1},{"s":"RQ","x":-0.181,"y":0.25},{"s":"RQ","x":-0.144,"y":0.5},{"s":"RQ","x":-0.114,"y":0.8},{"s":"RQ","x":-0.095,"y":1.3},{"s":"RQ","x":-0.077,"y":2.0},{"s":"RQ","x":-0.064,"y":3.0},{"s":"RQ","x":-0.046,"y":4.2},{"s":"RQ","x":-0.023,"y":5.3},{"s":"RQ","x":-0.002,"y":4.8},{"s":"RQ","x":0.016,"y":4.3},{"s":"RQ","x":0.047,"y":4.3},{"s":"RQ","x":0.065,"y":4.0},{"s":"RQ","x":0.084,"y":3.0},{"s":"RQ","x":0.109,"y":2.0},{"s":"RQ","x":0.14,"y":1.0},{"s":"RQ","x":0.164,"y":0.4},{"s":"RQ","x":0.19,"y":0.15},{"s":"RQ","x":0.226,"y":0.15},{"s":"RQ","x":0.257,"y":0},{"s":"RQ","x":0.281,"y":0.1},{"s":"RQ","x":0.312,"y":0.1},{"s":"RQ","x":0.35,"y":0.15},{"s":"RQ","x":0.386,"y":0.2},{"s":"RQ","x":0.43,"y":0.5},{"s":"RQ","x":0.442,"y":0.65},{"s":"RQ","x":0.467,"y":0.5}
]
},
"vconcat": [
{"hconcat": [
 {"width": 339, "height": 193, "data": {"name": "p1"}, "mark": "line", "encoding": {
  "x": {"field": "x", "type": "quantitative", "scale": {"domain": [-0.147, 1.07], "nice": false, "zero": false}, "axis": {"values": [0, 0.2, 0.4, 0.6, 0.8, 1], "labelExpr": "replace(datum.value + '', '0.', '.')", "title": "Both trial-arms - CC Baseline"}},
  "y": {"field": "y", "type": "quantitative", "scale": {"domain": [-0.39, 5.7], "nice": false, "zero": false}, "axis": {"values": [0, 1, 2, 3, 4, 5], "title": "Density"}},
  "color": {"field": "s", "type": "nominal", "scale": {"domain": ["VSE", "CW", "RQ"], "range": ["#3d6891", "#a9434d", "#688c3c"]},
   "legend": {"title": null, "orient": "none", "legendX": 75, "legendY": 743, "direction": "horizontal", "symbolType": "M-1,0H11", "symbolSize": 342, "symbolStrokeWidth": 3, "labelFont": "Liberation Sans", "labelFontSize": 15, "labelColor": "#000", "labelOffset": 108, "columnPadding": 78, "padding": 19, "strokeColor": "#222", "fillColor": "#fff",
    "labelExpr": "datum.label == 'VSE' ? 'EQ-5D-5L VSE' : datum.label == 'CW' ? 'EQ-5D-5L Cross-walk' : 'ReQoL-UI'"}}}},
 {"width": 375, "height": 193, "data": {"name": "p2"}, "mark": "line", "encoding": {
  "x": {"field": "x", "type": "quantitative", "scale": {"domain": [-0.144, 1.061], "nice": false, "zero": false}, "axis": {"values": [0, 0.2, 0.4, 0.6, 0.8, 1], "labelExpr": "replace(datum.value + '', '0.', '.')", "title": "Both trial-arms - CC 8-week"}},
  "y": {"field": "y", "type": "quantitative", "scale": {"domain": [-0.39, 5.7], "nice": false, "zero": false}, "axis": {"values": [0, 1, 2, 3, 4, 5], "labels": false, "title": null}},
  "color": {"field": "s", "type": "nominal", "scale": {"domain": ["VSE", "CW", "RQ"], "range": ["#3d6891", "#a9434d", "#688c3c"]}}}},
 {"width": 375, "height": 193, "layer": [
  {"data": {"name": "p3"}, "mark": "line", "encoding": {
   "x": {"field": "x", "type": "quantitative", "scale": {"domain": [-0.642, 0.744], "nice": false, "zero": false}, "axis": {"values": [-0.6, -0.4, -0.2, 0, 0.2, 0.4, 0.6], "labelExpr": "replace(datum.value + '', '0.', '.')", "title": "Both trial-arms - CC 8-week change"}},
   "y": {"field": "y", "type": "quantitative", "scale": {"domain": [-0.39, 5.7], "nice": false, "zero": false}, "axis": {"values": [0, 1, 2, 3, 4, 5], "labels": false, "title": null}},
   "color": {"field": "s", "type": "nominal", "scale": {"domain": ["VSE", "CW", "RQ"], "range": ["#3d6891", "#a9434d", "#688c3c"]}}}},
  {"data": {"values": [{"x": 0}]}, "mark": {"type": "rule", "color": "#cf1f4f", "strokeWidth": 2}, "encoding": {"x": {"field": "x", "type": "quantitative"}}}
 ]}
], "spacing": 8, "resolve": {"scale": {"x": "independent", "y": "independent", "color": "shared"}}},
{"hconcat": [
 {"width": 339, "height": 193, "data": {"name": "p4"}, "mark": "line", "encoding": {
  "x": {"field": "x", "type": "quantitative", "scale": {"domain": [-0.147, 1.07], "nice": false, "zero": false}, "axis": {"values": [0, 0.2, 0.4, 0.6, 0.8, 1], "labelExpr": "replace(datum.value + '', '0.', '.')", "title": "Intervention-arm - CC Baseline"}},
  "y": {"field": "y", "type": "quantitative", "scale": {"domain": [-0.39, 5.7], "nice": false, "zero": false}, "axis": {"values": [0, 1, 2, 3, 4, 5], "title": "Density"}},
  "color": {"field": "s", "type": "nominal", "scale": {"domain": ["VSE", "CW", "RQ"], "range": ["#3d6891", "#a9434d", "#688c3c"]}}}},
 {"width": 375, "height": 193, "data": {"name": "p5"}, "mark": "line", "encoding": {
  "x": {"field": "x", "type": "quantitative", "scale": {"domain": [-0.144, 1.061], "nice": false, "zero": false}, "axis": {"values": [0, 0.2, 0.4, 0.6, 0.8, 1], "labelExpr": "replace(datum.value + '', '0.', '.')", "title": "Intervention-arm - CC 8-week"}},
  "y": {"field": "y", "type": "quantitative", "scale": {"domain": [-0.39, 5.7], "nice": false, "zero": false}, "axis": {"values": [0, 1, 2, 3, 4, 5], "labels": false, "title": null}},
  "color": {"field": "s", "type": "nominal", "scale": {"domain": ["VSE", "CW", "RQ"], "range": ["#3d6891", "#a9434d", "#688c3c"]}}}},
 {"width": 375, "height": 193, "layer": [
  {"data": {"name": "p6"}, "mark": "line", "encoding": {
   "x": {"field": "x", "type": "quantitative", "scale": {"domain": [-0.642, 0.744], "nice": false, "zero": false}, "axis": {"values": [-0.6, -0.4, -0.2, 0, 0.2, 0.4, 0.6], "labelExpr": "replace(datum.value + '', '0.', '.')", "title": "Intervention-arm - CC 8-week change"}},
   "y": {"field": "y", "type": "quantitative", "scale": {"domain": [-0.39, 5.7], "nice": false, "zero": false}, "axis": {"values": [0, 1, 2, 3, 4, 5], "labels": false, "title": null}},
   "color": {"field": "s", "type": "nominal", "scale": {"domain": ["VSE", "CW", "RQ"], "range": ["#3d6891", "#a9434d", "#688c3c"]}}}},
  {"data": {"values": [{"x": 0}]}, "mark": {"type": "rule", "color": "#cf1f4f", "strokeWidth": 2}, "encoding": {"x": {"field": "x", "type": "quantitative"}}}
 ]}
], "spacing": 8, "resolve": {"scale": {"x": "independent", "y": "independent", "color": "shared"}}},
{"hconcat": [
 {"width": 339, "height": 193, "data": {"name": "p7"}, "mark": "line", "encoding": {
  "x": {"field": "x", "type": "quantitative", "scale": {"domain": [-0.147, 1.07], "nice": false, "zero": false}, "axis": {"values": [0, 0.2, 0.4, 0.6, 0.8, 1], "labelExpr": "replace(datum.value + '', '0.', '.')", "title": "Control-arm - CC Baseline"}},
  "y": {"field": "y", "type": "quantitative", "scale": {"domain": [-0.39, 5.7], "nice": false, "zero": false}, "axis": {"values": [0, 1, 2, 3, 4, 5], "title": "Density"}},
  "color": {"field": "s", "type": "nominal", "scale": {"domain": ["VSE", "CW", "RQ"], "range": ["#3d6891", "#a9434d", "#688c3c"]}}}},
 {"width": 375, "height": 193, "data": {"name": "p8"}, "mark": "line", "encoding": {
  "x": {"field": "x", "type": "quantitative", "scale": {"domain": [-0.144, 1.061], "nice": false, "zero": false}, "axis": {"values": [0, 0.2, 0.4, 0.6, 0.8, 1], "labelExpr": "replace(datum.value + '', '0.', '.')", "title": "Control-arm - CC 8-week"}},
  "y": {"field": "y", "type": "quantitative", "scale": {"domain": [-0.39, 5.7], "nice": false, "zero": false}, "axis": {"values": [0, 1, 2, 3, 4, 5], "labels": false, "title": null}},
  "color": {"field": "s", "type": "nominal", "scale": {"domain": ["VSE", "CW", "RQ"], "range": ["#3d6891", "#a9434d", "#688c3c"]}}}},
 {"width": 375, "height": 193, "layer": [
  {"data": {"name": "p9"}, "mark": "line", "encoding": {
   "x": {"field": "x", "type": "quantitative", "scale": {"domain": [-0.642, 0.744], "nice": false, "zero": false}, "axis": {"values": [-0.6, -0.4, -0.2, 0, 0.2, 0.4, 0.6], "labelExpr": "replace(datum.value + '', '0.', '.')", "title": "Control-arm - CC 8-week change"}},
   "y": {"field": "y", "type": "quantitative", "scale": {"domain": [-0.39, 5.7], "nice": false, "zero": false}, "axis": {"values": [0, 1, 2, 3, 4, 5], "labels": false, "title": null}},
   "color": {"field": "s", "type": "nominal", "scale": {"domain": ["VSE", "CW", "RQ"], "range": ["#3d6891", "#a9434d", "#688c3c"]}}}},
  {"data": {"values": [{"x": 0}]}, "mark": {"type": "rule", "color": "#cf1f4f", "strokeWidth": 2}, "encoding": {"x": {"field": "x", "type": "quantitative"}}}
 ]}
], "spacing": 8, "resolve": {"scale": {"x": "independent", "y": "independent", "color": "shared"}}}
]
}
